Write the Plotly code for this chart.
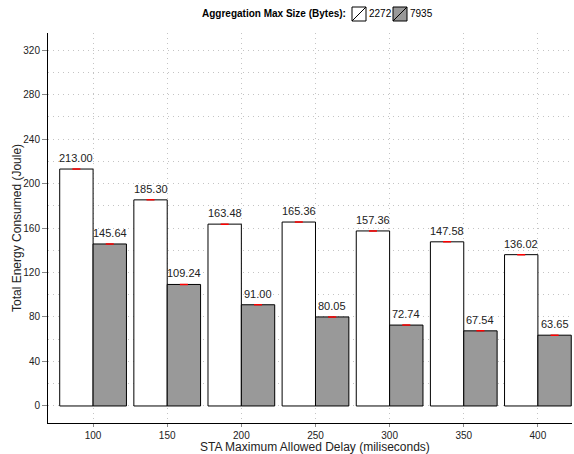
import plotly.graph_objects as go

delays = [100, 150, 200, 250, 300, 350, 400]
energy_2272 = [213.00, 185.30, 163.48, 165.36, 157.36, 147.58, 136.02]
energy_7935 = [145.64, 109.24, 91.00, 80.05, 72.74, 67.54, 63.65]
series_names = ["2272", "7935"]
series_fill = ["white", "#999999"]
y_ticks = [0, 40, 80, 120, 160, 200, 240, 280, 320]

W, H = 574, 454
M = dict(l=48, r=2, t=33, b=31)
BAR_W = 22.5
FONT = "Liberation Sans, Arial, Helvetica, sans-serif"
GRID = dict(showgrid=True, gridcolor="#c4c4c4", griddash="1px,4px", gridwidth=1)

fig = go.Figure()

red_cap = dict(type="data", array=[0] * len(delays), color="red",
               thickness=1.5, width=4, visible=True)

for name, vals, fill, off in ((series_names[0], energy_2272, series_fill[0], -BAR_W),
                              (series_names[1], energy_7935, series_fill[1], 0)):
    fig.add_trace(go.Bar(
        x=delays, y=vals, name=name,
        width=BAR_W, offset=off,
        marker=dict(color=fill, line=dict(color="black", width=1)),
        error_y=red_cap, showlegend=False,
    ))

# value labels above each bar
annotations = []
for ys, shift in ((energy_2272, -BAR_W / 2), (energy_7935, BAR_W / 2)):
    for x, v in zip(delays, ys):
        annotations.append(dict(
            x=x + shift, y=v, text=f"{v:.2f}", showarrow=False,
            yanchor="bottom", yshift=3,
            font=dict(family=FONT, size=11, color="#222222"),
        ))

# helpers: pixel position on the page -> paper coordinates
plot_w = W - M["l"] - M["r"]
plot_h = H - M["t"] - M["b"]
def px(x):
    return (x - M["l"]) / plot_w
def py(y):
    return (H - M["b"] - y) / plot_h

# axis titles
annotations.append(dict(
    xref="paper", yref="paper", x=px(315), y=py(447),
    xanchor="center", yanchor="middle", showarrow=False,
    text="STA Maximum Allowed Delay (miliseconds)",
    font=dict(family=FONT, size=12, color="#222222"),
))
annotations.append(dict(
    xref="paper", yref="paper", x=px(17), y=0.5,
    xanchor="center", yanchor="middle", showarrow=False, textangle=-90,
    text="Total Energy Consumed (Joule)",
    font=dict(family=FONT, size=12, color="#222222"),
))

# compact legend row above the plot
shapes = []
LEG_Y = 14
annotations.append(dict(
    xref="paper", yref="paper", x=px(348), y=py(LEG_Y),
    xanchor="right", yanchor="middle", showarrow=False,
    text="<b>Aggregation Max Size (Bytes):</b>",
    font=dict(family=FONT, size=10, color="black"),
))
for i, (name, fill) in enumerate(zip(series_names, series_fill)):
    x0 = 352 + i * 41
    shapes.append(dict(type="rect", xref="paper", yref="paper",
                       x0=px(x0), x1=px(x0 + 14), y0=py(LEG_Y + 7), y1=py(LEG_Y - 7),
                       fillcolor=fill, line=dict(color="black", width=1)))
    shapes.append(dict(type="line", xref="paper", yref="paper",
                       x0=px(x0), x1=px(x0 + 14), y0=py(LEG_Y + 7), y1=py(LEG_Y - 7),
                       line=dict(color="black", width=1)))
    annotations.append(dict(
        xref="paper", yref="paper", x=px(x0 + 15), y=py(LEG_Y),
        xanchor="left", yanchor="middle", showarrow=False, text=name,
        font=dict(family=FONT, size=10, color="black"),
    ))

fig.update_layout(
    width=W, height=H,
    margin=M,
    paper_bgcolor="white", plot_bgcolor="white",
    font=dict(family=FONT, size=10, color="#222222"),
    barmode="overlay",
    showlegend=False,
    annotations=annotations,
    shapes=shapes,
    xaxis=dict(
        range=[69.6, 423.0],
        tickvals=delays, ticktext=[str(d) for d in delays],
        ticks="outside", ticklen=3, tickcolor="#888888",
        showline=True, linecolor="black", linewidth=1,
        zeroline=False,
        tickfont=dict(size=10),
        **GRID,
    ),
    yaxis=dict(
        range=[-15.3, 335.3],
        tickvals=y_ticks,
        ticks="outside", ticklen=5, tickcolor="#888888",
        showline=True, linecolor="black", linewidth=1,
        minor=dict(dtick=20, tick0=0, **GRID),
        zeroline=False,
        tickfont=dict(size=10),
        **GRID,
    ),
)

fig.write_html("out.html")
